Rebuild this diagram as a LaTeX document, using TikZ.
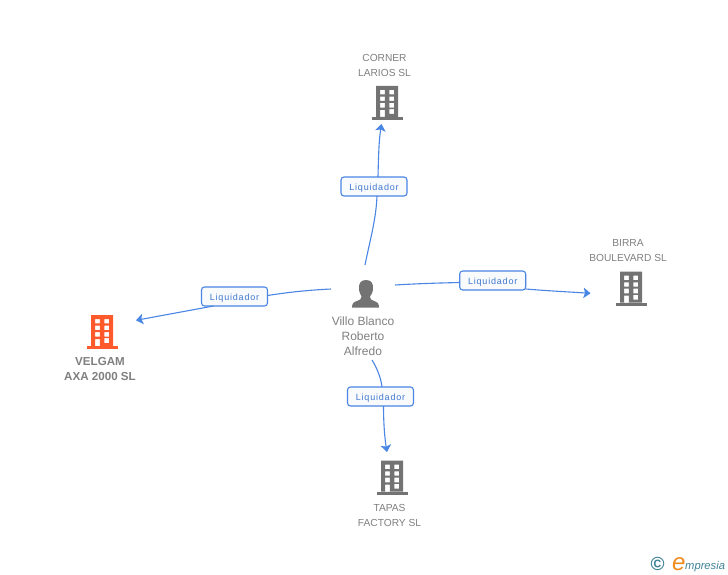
\documentclass[tikz,border=0pt]{standalone}
\usepackage{fontspec}
\setmainfont{Liberation Sans}
\newfontfamily\lblfont[LetterSpace=9]{Liberation Sans}
\usetikzlibrary{arrows.meta}
\definecolor{linkblue}{HTML}{4A86E4}
\definecolor{labeltext}{HTML}{3F78D0}
\definecolor{labelfill}{HTML}{F9FAFC}
\definecolor{iconGray}{HTML}{737373}
\definecolor{nameGray}{HTML}{808080}
\definecolor{iconRed}{HTML}{FF5A2C}
\definecolor{logoTeal}{HTML}{3E8296}
\definecolor{logoOrange}{HTML}{F08A1C}
\tikzset{
  link/.style={draw=linkblue,line width=1.1pt},
  linkarrow/.style={link,-{Stealth[length=7pt,width=10.5pt,inset=1.5pt]}},
  rolelabel/.style={draw=linkblue,line width=1.1pt,fill=labelfill,rounded corners=3pt,
    minimum width=66pt,minimum height=19pt,inner sep=0pt,outer sep=0pt,
    text height=7pt,text depth=0pt,
    text=labeltext,font=\lblfont\fontsize{9}{11}\selectfont},
  entname/.style={text=nameGray,align=center,inner sep=0pt,font=\fontsize{10.2}{15}\selectfont},
  entbold/.style={entname,font=\bfseries\fontsize{11.6}{15}\selectfont},
  entperson/.style={entname,font=\fontsize{12}{15}\selectfont},
  iconbox/.style={minimum width=32pt,minimum height=34pt,inner sep=0pt,outer sep=0pt},
  building/.pic={
    \fill[even odd rule,pic actions]
      (-11,-34) rectangle (11,-3)
      (-7,-30) rectangle (-2.2,-25.6) (2.4,-30) rectangle (7.2,-25.6)
      (-7,-23.4) rectangle (-2.2,-19) (2.4,-23.4) rectangle (7.2,-19)
      (-7,-17) rectangle (-2.2,-12.4) (2.4,-17) rectangle (7.2,-12.4)
      (-7,-10) rectangle (-2.2,-3) (2.4,-10.8) rectangle (7.2,-6);
    \fill[pic actions] (-15.5,-3) rectangle (15.5,0);
  }
}
\begin{document}
\begin{tikzpicture}[x=1pt,y=-1pt]
\useasboundingbox[fill=white] (0,0) rectangle (728,575);

% building icons
\pic[fill=iconGray] at (387,120) {building};
\pic[fill=iconGray] at (631,305.7) {building};
\pic[fill=iconGray] at (392,494.7) {building};
\pic[fill=iconRed] at (102,349) {building};
\node[iconbox] (corner) at (387,103) {};
\node[iconbox] (birra) at (631,288.7) {};
\node[iconbox] (tapas) at (392,477.7) {};
\node[iconbox] (velgam) at (102,332) {};

% person icon
\fill[iconGray] (366,280) .. controls (360,280) and (359,284) .. (359,288)
  .. controls (359,292) and (360.5,295) .. (361.5,296.5)
  .. controls (361.5,299) and (360,300) .. (357,301)
  .. controls (353.5,302) and (352,303.5) .. (352,307.5)
  -- (379,307.5)
  .. controls (379,303.5) and (377.5,302) .. (374,301)
  .. controls (371,300) and (370,299) .. (370,296.5)
  .. controls (371.5,295) and (373,292) .. (373,288)
  .. controls (373,284) and (372,280) .. (366,280) -- cycle;
\node[minimum width=28pt,minimum height=28pt,inner sep=0pt] (person) at (366,293) {};

% labels
\node[rolelabel] (ltop) at (374,186.5) {Liquidador};
\node[rolelabel] (lleft) at (234.5,296.5) {Liquidador};
\node[rolelabel] (lright) at (492.7,280.5) {Liquidador};
\node[rolelabel] (lbot) at (380.5,396.5) {Liquidador};

% free ends of connectors
\coordinate (ts) at (365,265);
\coordinate (te) at (381.5,124);
\coordinate (ls) at (331,289);
\coordinate (le) at (136,320.3);
\coordinate (rs) at (395,285);
\coordinate (re) at (590.5,293.3);
\coordinate (bs) at (372,360);
\coordinate (be) at (387,452);

% connectors
\draw[link] (ts) .. controls (370,240) and (376,220) .. ([xshift=3pt]ltop.south);
\draw[linkarrow] ([xshift=4pt]ltop.north) .. controls (378.5,155) and (379,140) .. (te);
\draw[link] (ls) .. controls (310,290) and (290,292) .. ([yshift=1pt]lleft.east);
\draw[linkarrow] ([xshift=-21pt]lleft.south) -- (le);
\draw[link] (rs) .. controls (420,283.5) and (440,283) .. ([yshift=-2pt]lright.west);
\draw[linkarrow] ([yshift=-8.5pt]lright.east) .. controls (550,291) and (570,292) .. (re);
\draw[link] (bs) .. controls (377,368) and (381,378) .. ([xshift=1.5pt]lbot.north);
\draw[linkarrow] ([xshift=3pt]lbot.south) .. controls (383.5,425) and (385,440) .. (be);

% names
\node[entname] (ncorner) at (384.5,65) {CORNER\\LARIOS SL};
\node[entname] (nbirra) at (628,251) {BIRRA\\BOULEVARD SL};
\node[entname] (ntapas) at (389.5,515) {TAPAS\\FACTORY SL};
\node[entbold] (nvelgam) at (100,369) {VELGAM\\AXA 2000 SL};
\node[entperson] (nperson) at (363,336) {Villo Blanco\\Roberto\\Alfredo};

% logo
\node[text=logoTeal,inner sep=0pt,font=\bfseries\fontsize{19}{19}\selectfont] (copy) at (657.5,564) {©};
\node[text=logoOrange,inner sep=0pt,anchor=base west,font=\itshape\fontsize{24}{24}\selectfont] (logoe) at (672,570) {e};
\node[text=logoTeal,inner sep=0pt,anchor=base west,font=\itshape\fontsize{11.2}{14}\selectfont] (logorest) at (685,569) {mpresia};
\end{tikzpicture}
\end{document}
